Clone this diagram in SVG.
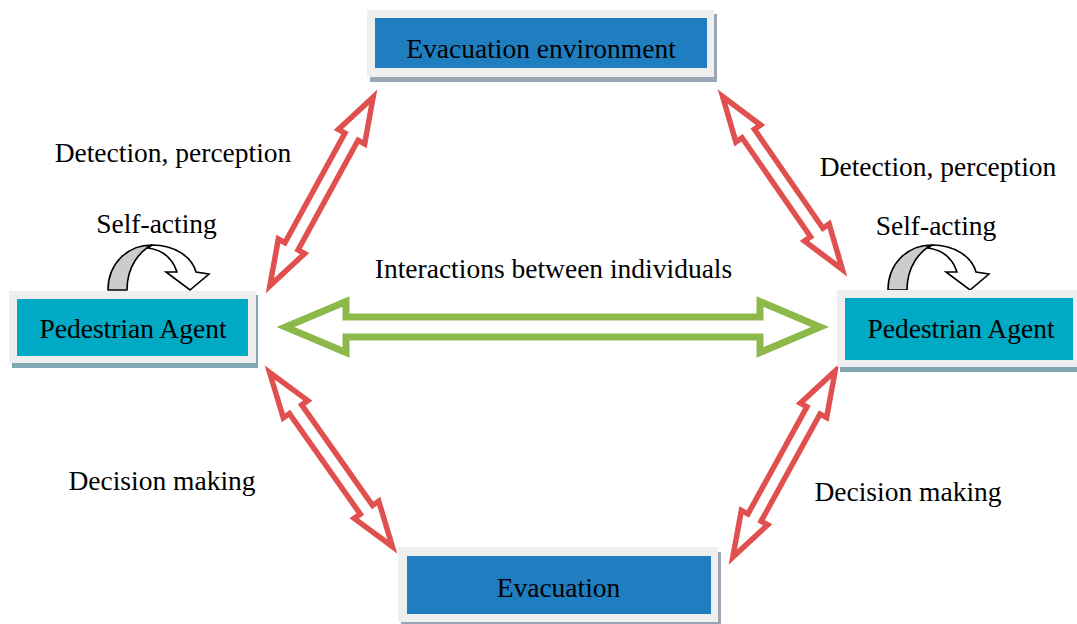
<svg xmlns="http://www.w3.org/2000/svg" width="1077" height="624" viewBox="0 0 1077 624">
<style>
text{font-family:"Liberation Serif","Times New Roman",serif;font-size:27.5px;fill:#000;text-anchor:middle}
.frame{fill:#efefef}
.blue{fill:#1f7ebf}
.teal{fill:#00a9c4}
.shB{fill:#9aa5b5}
.shT{fill:#7ea9b0}
.red{fill:#fff;stroke:#e0504e;stroke-width:5.5;stroke-linejoin:miter}
.green{fill:#fff;stroke:#8db94b;stroke-width:7;stroke-linejoin:miter}
.gray{fill:#cccccc;stroke:#000;stroke-width:1.6;stroke-linejoin:round}
.white{fill:#fff;stroke:#000;stroke-width:1.6;stroke-linejoin:miter}
</style>
<rect width="1077" height="624" fill="#fff"/>
<g id="connectors">
<path class="red" transform="translate(321.5,191.5) rotate(-61.3)" d="M-107.5,0 L-62.5,-15 L-62.5,-7.5 L62.5,-7.5 L62.5,-15 L107.5,0 L62.5,15 L62.5,7.5 L-62.5,7.5 L-62.5,15 Z"/>
<path class="red" transform="translate(782.5,183) rotate(55.3)" d="M-105.2,0 L-60.2,-15 L-60.2,-7.5 L60.2,-7.5 L60.2,-15 L105.2,0 L60.2,15 L60.2,7.5 L-60.2,7.5 L-60.2,15 Z"/>
<path class="red" transform="translate(331,459.5) rotate(54.8)" d="M-106.5,0 L-61.5,-15 L-61.5,-7.5 L61.5,-7.5 L61.5,-15 L106.5,0 L61.5,15 L61.5,7.5 L-61.5,7.5 L-61.5,15 Z"/>
<path class="red" transform="translate(784,464) rotate(-61.2)" d="M-106.2,0 L-61.2,-15 L-61.2,-7.5 L61.2,-7.5 L61.2,-15 L106.2,0 L61.2,15 L61.2,7.5 L-61.2,7.5 L-61.2,15 Z"/>
<path class="green" d="M285.5,327 L346,301.5 L346,317 L760,317 L760,301.5 L820,327 L760,352.5 L760,337 L346,337 L346,352.5 Z"/>
</g>
<g id="self-acting-left">
<path class="gray" d="M108,290 C108,264 127,245 152,245 C140,251 127,266 127,290 Z"/>
<path class="white" d="M152,245 C175,245 192,257 196,272 L209,274 L190,290 L166,272 L177,272 C173,260 164,250 148,248 Z"/>
</g>
<g id="self-acting-right">
<path class="gray" transform="translate(780,0)" d="M108,290 C108,264 127,245 152,245 C140,251 127,266 127,290 Z"/>
<path class="white" transform="translate(780,0)" d="M152,245 C175,245 192,257 196,272 L209,274 L190,290 L166,272 L177,272 C173,260 164,250 148,248 Z"/>
</g>
<g id="evacuation-environment">
<rect class="shB" x="370" y="14" width="347" height="68"/>
<rect class="frame" x="367" y="10" width="347" height="67"/>
<rect class="blue" x="375" y="18" width="332" height="50"/>
<text x="541" y="58">Evacuation environment</text>
</g>
<g id="pedestrian-left">
<rect class="shT" x="12" y="295" width="246" height="73"/>
<rect class="frame" x="9" y="291" width="247" height="72"/>
<rect class="teal" x="17" y="299" width="231" height="57"/>
<text x="133" y="338">Pedestrian Agent</text>
</g>
<g id="pedestrian-right">
<rect class="shT" x="840" y="294" width="240" height="78"/>
<rect class="frame" x="837" y="290" width="245" height="77"/>
<rect class="teal" x="845" y="298" width="228" height="62"/>
<text x="961" y="338">Pedestrian Agent</text>
</g>
<g id="evacuation">
<rect class="shB" x="401" y="552" width="320" height="75"/>
<rect class="frame" x="398" y="547" width="320" height="75"/>
<rect class="blue" x="407" y="556" width="304" height="58"/>
<text x="558.5" y="597">Evacuation</text>
</g>
<g id="labels">
<text x="173" y="162">Detection, perception</text>
<text x="156.5" y="233">Self-acting</text>
<text x="553.5" y="278">Interactions between individuals</text>
<text x="938" y="176">Detection, perception</text>
<text x="936" y="235">Self-acting</text>
<text x="162" y="490">Decision making</text>
<text x="908" y="501">Decision making</text>
</g>
</svg>
